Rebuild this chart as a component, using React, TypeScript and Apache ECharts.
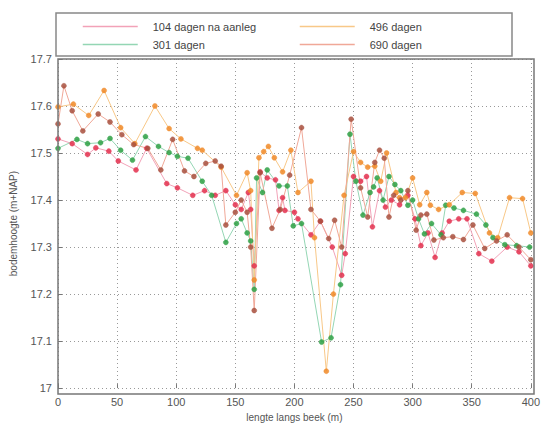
import React, { useEffect, useRef } from "react";
import * as echarts from "echarts";

const seriesNames = ["104 dagen na aanleg", "301 dagen", "496 dagen", "690 dagen"];

const x104 = [0, 12, 25, 32, 43, 51, 66, 75, 92, 101, 114, 124, 133, 142, 150, 155, 161, 163, 166, 171, 177, 184, 187, 190, 192, 200, 203, 214, 222, 232, 240, 243, 250, 256, 261, 266, 272, 277, 282, 289, 296, 302, 307, 313, 319, 325, 331, 339, 346, 356, 367, 380, 390, 400];
const y104 = [17.53, 17.52, 17.497, 17.511, 17.504, 17.483, 17.464, 17.51, 17.435, 17.426, 17.41, 17.42, 17.41, 17.42, 17.39, 17.38, 17.416, 17.38, 17.26, 17.46, 17.447, 17.443, 17.378, 17.405, 17.378, 17.374, 17.36, 17.326, 17.355, 17.3, 17.24, 17.286, 17.45, 17.44, 17.45, 17.343, 17.42, 17.385, 17.4, 17.39, 17.41, 17.36, 17.303, 17.33, 17.278, 17.33, 17.355, 17.36, 17.36, 17.286, 17.27, 17.3, 17.29, 17.26];

const x301 = [0, 16, 25, 36, 44, 53, 63, 74, 85, 94, 101, 110, 122, 130, 142, 151, 155, 160, 163, 166, 168, 173, 177, 187, 194, 199, 206, 223, 231, 239, 247, 252, 258, 264, 267, 270, 275, 280, 285, 290, 296, 300, 305, 310, 316, 324, 328, 335, 343, 354, 362, 368, 378, 388, 399];
const y301 = [17.51, 17.529, 17.52, 17.522, 17.531, 17.506, 17.485, 17.535, 17.514, 17.501, 17.493, 17.489, 17.44, 17.41, 17.31, 17.35, 17.36, 17.33, 17.313, 17.21, 17.447, 17.416, 17.464, 17.43, 17.43, 17.345, 17.35, 17.098, 17.107, 17.22, 17.54, 17.44, 17.368, 17.416, 17.428, 17.447, 17.4, 17.45, 17.433, 17.42, 17.389, 17.4, 17.36, 17.328, 17.35, 17.326, 17.389, 17.383, 17.378, 17.37, 17.347, 17.32, 17.305, 17.303, 17.3];

const x496 = [0, 13, 26, 39, 53, 65, 82, 94, 104, 118, 122, 138, 151, 160, 163, 166, 170, 174, 178, 183, 190, 197, 203, 214, 217, 227, 233, 242, 250, 256, 262, 268, 273, 278, 286, 289, 294, 300, 306, 312, 315, 322, 331, 342, 353, 365, 372, 382, 393, 400];
const y496 = [17.598, 17.604, 17.58, 17.633, 17.554, 17.52, 17.6, 17.552, 17.53, 17.51, 17.506, 17.47, 17.41, 17.458, 17.42, 17.23, 17.49, 17.503, 17.514, 17.49, 17.46, 17.506, 17.416, 17.44, 17.32, 17.036, 17.2, 17.41, 17.503, 17.48, 17.47, 17.472, 17.44, 17.5, 17.416, 17.405, 17.405, 17.447, 17.39, 17.416, 17.389, 17.38, 17.39, 17.416, 17.414, 17.33, 17.32, 17.405, 17.403, 17.33];

const x690 = [0, 5, 12, 21, 34, 44, 54, 64, 76, 87, 97, 107, 115, 125, 133, 138, 142, 150, 155, 160, 163, 166, 171, 181, 188, 196, 206, 214, 222, 229, 234, 240, 248, 256, 262, 268, 272, 276, 280, 284, 290, 296, 303, 307, 312, 318, 326, 334, 343, 351, 361, 371, 380, 390, 400];
const y690 = [17.562, 17.643, 17.59, 17.547, 17.583, 17.566, 17.539, 17.518, 17.51, 17.464, 17.529, 17.462, 17.45, 17.478, 17.483, 17.472, 17.347, 17.374, 17.4, 17.374, 17.3, 17.165, 17.458, 17.34, 17.38, 17.453, 17.554, 17.38, 17.355, 17.318, 17.357, 17.3, 17.572, 17.426, 17.364, 17.48, 17.506, 17.489, 17.364, 17.41, 17.4, 17.42, 17.336, 17.368, 17.37, 17.315, 17.32, 17.322, 17.316, 17.347, 17.297, 17.313, 17.326, 17.3, 17.273];

const xs = [x104, x301, x496, x690];
const ys = [y104, y301, y496, y690];
const lineColors = ["#f2a2b8", "#94d6b4", "#f8c888", "#f0a898"];
const markerColors = ["#e3304e", "#2ea044", "#f08a28", "#a8503e"];

export default function App() {
  const ref = useRef<HTMLDivElement>(null);
  useEffect(() => {
    document.body.style.margin = "0";
    const chart = echarts.init(ref.current!, null, { renderer: "svg" });
    const font = "Liberation Sans, Arial, sans-serif";
    const series = seriesNames.map((name, i) => ({
      name,
      type: "line",
      data: xs[i].map((x, j) => [x, ys[i][j]]),
      symbol: "circle",
      symbolSize: 5,
      lineStyle: { color: lineColors[i], width: 1 },
      itemStyle: { color: markerColors[i], borderColor: markerColors[i], borderWidth: 0.5, opacity: 0.85 },
      emphasis: { disabled: true },
    }));
    const legendCommon = {
      orient: "vertical",
      top: 16,
      itemWidth: 55,
      itemHeight: 10,
      itemGap: 7,
      itemStyle: { opacity: 0 },
      lineStyle: { width: 1.5 },
      textStyle: { fontFamily: font, fontSize: 11, color: "#444", padding: [0, 0, 0, 10] },
      selectedMode: false,
    };
    chart.setOption({
      animation: false,
      backgroundColor: "#fff",
      grid: { left: 58, right: 9, top: 59, bottom: 33 },
      legend: [
        { ...legendCommon, left: 77, data: [seriesNames[0], seriesNames[1]] },
        { ...legendCommon, left: 294, data: [seriesNames[2], seriesNames[3]] },
      ],
      graphic: [
        {
          type: "rect",
          shape: { x: 56, y: 13, width: 456, height: 43 },
          style: { fill: "none", stroke: "#888", lineWidth: 1.5 },
          silent: true,
        },
        {
          type: "rect",
          shape: { x: 58, y: 59, width: 476, height: 335 },
          style: { fill: "none", stroke: "#777", lineWidth: 1.5 },
          silent: true,
          z: 10,
        },
      ],
      xAxis: {
        type: "value",
        min: 0,
        max: 400,
        interval: 50,
        name: "lengte langs beek (m)",
        nameLocation: "middle",
        nameGap: 22,
        nameTextStyle: { fontFamily: font, fontSize: 10, color: "#555" },
        axisLine: { show: false },
        axisTick: { inside: true, length: 4, lineStyle: { color: "#777" } },
        axisLabel: { fontFamily: font, fontSize: 11, color: "#555", margin: 8 },
        splitLine: { show: true, lineStyle: { color: "#999", type: [1, 3], width: 1 } },
      },
      yAxis: {
        type: "value",
        min: 17,
        max: 17.7,
        interval: 0.1,
        name: "bodemhoogte (m+NAP)",
        nameLocation: "middle",
        nameGap: 40,
        nameTextStyle: { fontFamily: font, fontSize: 10, color: "#555" },
        axisLine: { show: false },
        axisTick: { inside: true, length: 4, lineStyle: { color: "#777" } },
        axisLabel: {
          fontFamily: font,
          fontSize: 11,
          color: "#555",
          margin: 6,
          formatter: (v: number) => String(Math.round(v * 10) / 10),
        },
        splitLine: { show: true, lineStyle: { color: "#999", type: [1, 3], width: 1 } },
      },
      series,
    });
    return () => chart.dispose();
  }, []);
  return <div ref={ref} style={{ width: 543, height: 427 }} />;
}
